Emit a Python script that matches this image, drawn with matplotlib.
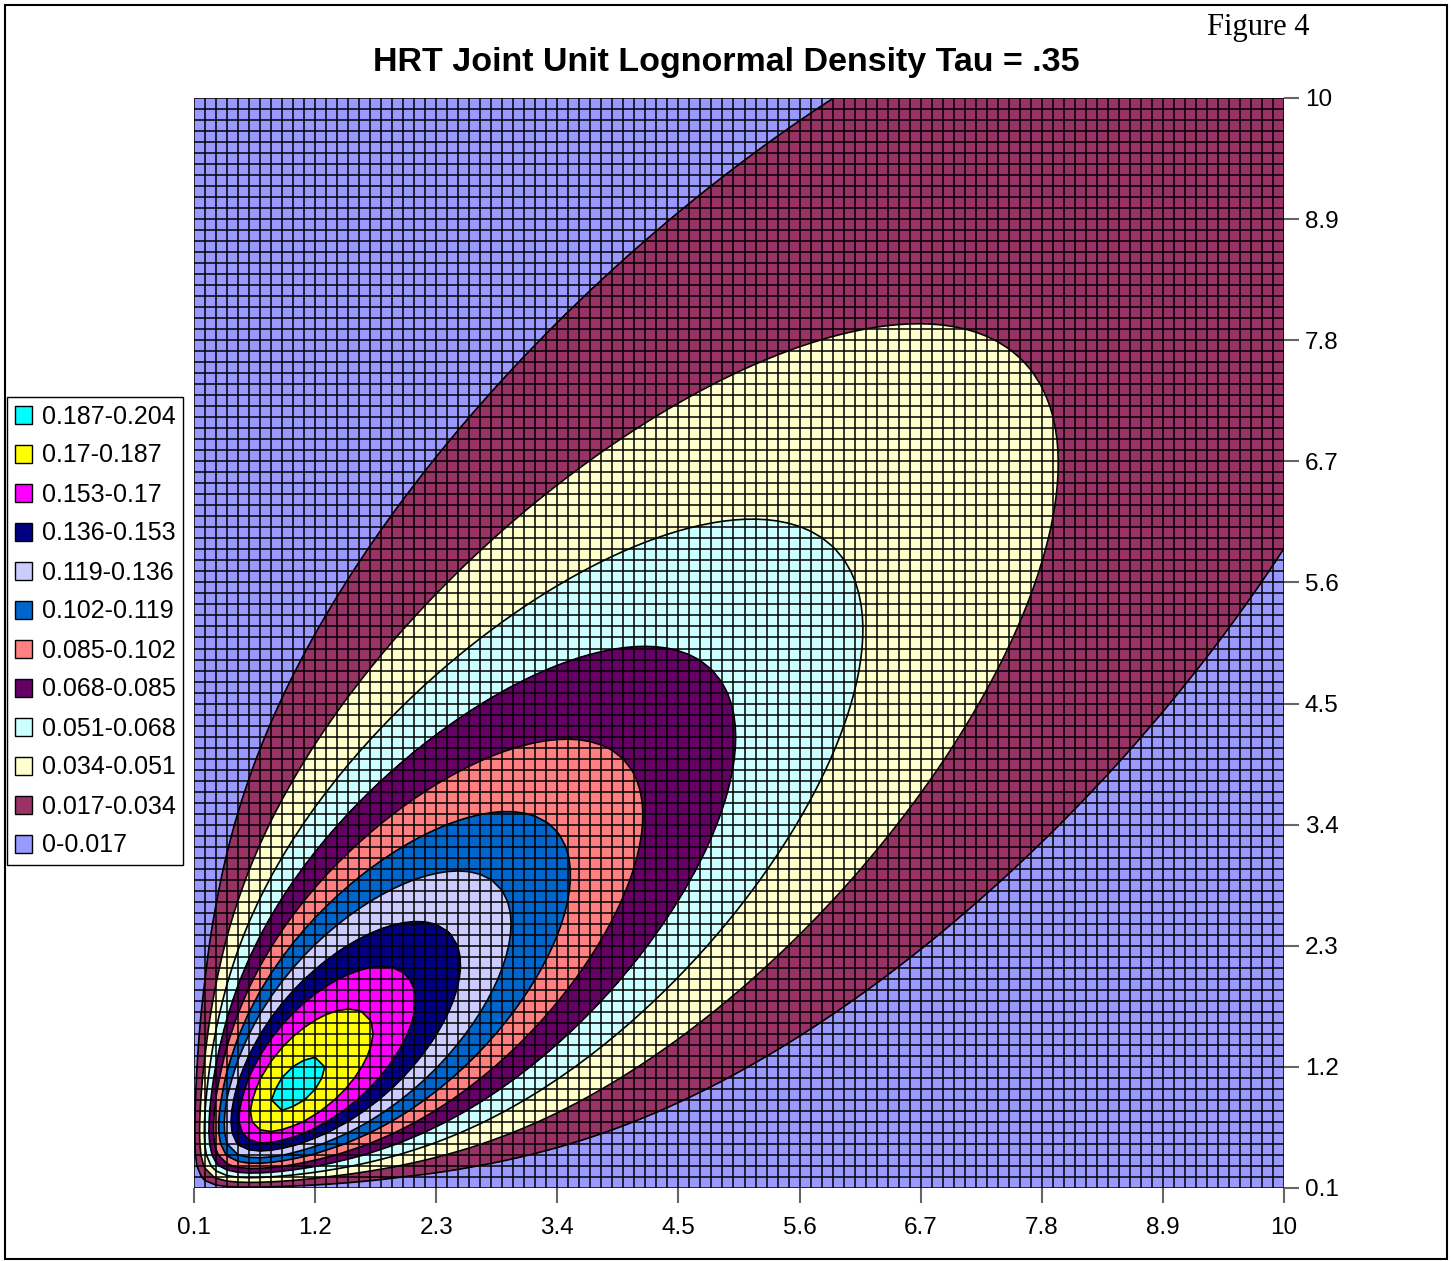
import math
import numpy as np
import matplotlib
matplotlib.use('Agg')
import matplotlib.pyplot as plt
from matplotlib.patches import Patch, Rectangle

plt.rcParams['font.family'] = ['Liberation Sans', 'DejaVu Sans']

# ----------------------------------------------------------
# data
# ----------------------------------------------------------
tau = 0.35                       # Kendall tau of the HRT copula
grid_vals = np.round(np.linspace(0.1, 10, 100), 1)
tick_vals = [0.1, 1.2, 2.3, 3.4, 4.5, 5.6, 6.7, 7.8, 8.9, 10]
tick_labels = ['0.1', '1.2', '2.3', '3.4', '4.5', '5.6', '6.7', '7.8', '8.9', '10']
level_edges = [0, 0.017, 0.034, 0.051, 0.068, 0.085, 0.102, 0.119, 0.136,
               0.153, 0.17, 0.187, 0.204]
level_colors = ['#9999FF', '#993366', '#FFFFCC', '#CCFFFF', '#660066', '#FF8080',
                '#0066CC', '#CCCCFF', '#000080', '#FF00FF', '#FFFF00', '#00FFFF']
legend_labels = ['0-0.017', '0.017-0.034', '0.034-0.051', '0.051-0.068',
                 '0.068-0.085', '0.085-0.102', '0.102-0.119', '0.119-0.136',
                 '0.136-0.153', '0.153-0.17', '0.17-0.187', '0.187-0.204']

# ----------------------------------------------------------
# functions
# ----------------------------------------------------------
erf = np.vectorize(math.erf)


def unit_lognormal(x):
    # normal pdf / cdf of ln x (mu 0, sigma 1)
    z = np.log(x)
    return np.exp(-0.5 * z * z) / np.sqrt(2 * np.pi), 0.5 * (1 + erf(z / np.sqrt(2)))


def hrt_density(u, v, t):
    # HRT copula = survival Clayton, theta from Kendall tau
    th = 2 * t / (1 - t)
    a = 1 - u
    b = 1 - v
    return (1 + th) * (a * b) ** (-th - 1) * (a ** -th + b ** -th - 1) ** (-1 / th - 2)


# ----------------------------------------------------------
# main
# ----------------------------------------------------------
X, Y = np.meshgrid(grid_vals, grid_vals)
fX, FX = unit_lognormal(X)
fY, FY = unit_lognormal(Y)
Z = hrt_density(FX, FY, tau) * fX * fY

fig = plt.figure(figsize=(14.52, 12.61), dpi=100)
ax = fig.add_axes([194 / 1452, 1 - 1188 / 1261, 1090 / 1452, 1090 / 1261])
ax.contourf(X, Y, np.clip(Z, 0, 0.2039), levels=level_edges, colors=level_colors)
ax.contour(X, Y, Z, levels=level_edges[1:], colors='black', linewidths=1.2)
ax.vlines(grid_vals, 0.1, 10, colors='black', linewidth=1.1)
ax.hlines(grid_vals, 0.1, 10, colors='black', linewidth=1.1)
ax.set_xlim(0.1, 10)
ax.set_ylim(0.1, 10)
ax.set_xticks(tick_vals)
ax.set_xticklabels(tick_labels)
ax.set_yticks(tick_vals)
ax.set_yticklabels(tick_labels)
ax.yaxis.tick_right()
ax.tick_params(length=11, width=1.5, color='#666666', labelsize=17.5, pad=4)
ax.tick_params(axis='x', pad=10)
for s in ax.spines.values():
    s.set_visible(False)

fig.text(0.5, 1 - 62 / 1261, 'HRT Joint Unit Lognormal Density Tau = .35', ha='center',
         va='center', fontsize=24.5, fontweight='bold')
fig.text(1258 / 1452, 1 - 27 / 1261, 'Figure 4', ha='center', va='center', fontsize=22,
         family='Liberation Serif')

handles = [Patch(facecolor=c, edgecolor='black') for c in level_colors[::-1]]
fig.legend(handles, legend_labels[::-1], loc='upper left',
           bbox_to_anchor=(7 / 1452, 1 - 397 / 1261), borderaxespad=0, fancybox=False,
           edgecolor='black', handlelength=0.7, handleheight=0.7,
           handletextpad=0.4, labelspacing=0.6, borderpad=0.3, framealpha=1,
           prop={'size': 18})
fig.patches.append(Rectangle((5 / 1452, 2 / 1261), 1442 / 1452, 1254 / 1261,
                             transform=fig.transFigure, fill=False, edgecolor='black',
                             linewidth=1.5))
fig.savefig('out.png', dpi=100)
